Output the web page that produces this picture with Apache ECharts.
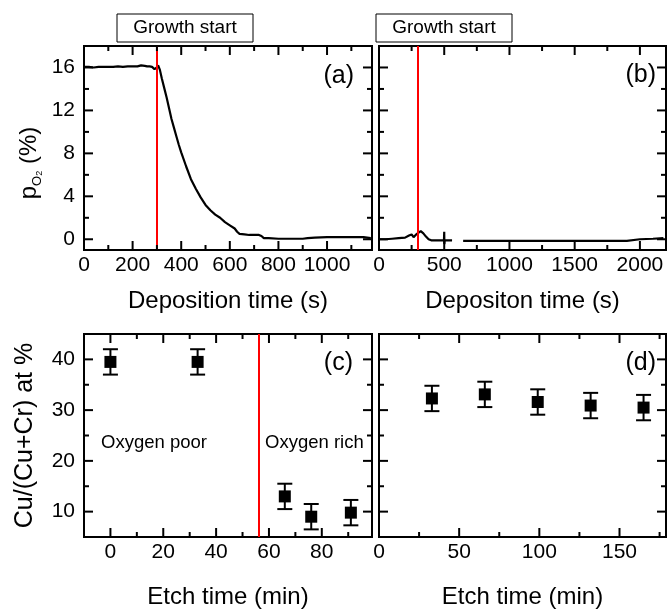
<!DOCTYPE html>
<html><head><meta charset="utf-8">
<script src="https://cdn.jsdelivr.net/npm/echarts@6/dist/echarts.min.js"></script>
<style>html,body{margin:0;padding:0;background:#fff}#c{width:671px;height:610px}</style>
</head><body><div id="c"></div>
<script>
// ---- data ----
const aTime = [0,20,40,60,80,100,120,140,160,180,200,220,235,242,250,260,270,280,290,300,305,312,320,330,340,350,360,370,380,390,400,420,440,460,480,500,520,540,560,580,600,620,630,640,660,680,700,720,730,740,760,800,850,900,920,950,1000,1050,1100,1150,1180];
const aPO2  = [16.05,16.05,16.0,16.05,16.05,16.05,16.05,16.1,16.05,16.1,16.1,16.1,16.2,16.35,16.15,16.1,16.1,16.05,15.85,16.0,16.2,15.8,15.0,14.1,13.2,12.2,11.2,10.4,9.6,8.8,8.1,6.8,5.6,4.7,3.9,3.2,2.7,2.3,2.0,1.6,1.3,1.0,0.7,0.5,0.45,0.4,0.4,0.4,0.3,0.1,0.1,0.05,0.05,0.05,0.1,0.15,0.2,0.2,0.2,0.2,0.1];
const bTime = [0,50,100,150,200,230,250,265,275,285,300,320,340,360,380,400,450,498,500,501,503,560,600,645,800,1000,1500,1900,2000,2100,2180];
const bPO2  = [0.0,0.0,0.05,0.1,0.15,0.35,0.45,0.2,0.15,0.45,0.6,0.75,0.55,0.25,0.0,-0.1,-0.1,-0.1,0.7,-0.45,-0.1,-0.1,null,-0.15,-0.15,-0.15,-0.15,-0.15,0.0,0.05,0.1];
const cEtch  = [0,33,66,76,91];
const cRatio = [39.5,39.5,13.0,9.0,9.8];
const cErr   = [2.5,2.5,2.5,2.5,2.5];
const dEtch  = [33,66,99,132,165];
const dRatio = [32.3,33.1,31.6,30.9,30.5];
const dErr   = [2.5,2.5,2.5,2.5,2.5];
const growthStartA = 300;
const growthStartB = 300;
const transitionC = 56;
// ---- ticks / tick labels ----
const aXMajor = [0,200,400,600,800,1000], aXMinor = [100,300,500,700,900,1100];
const bXMajor = [0,500,1000,1500,2000],  bXMinor = [250,750,1250,1750];
const pYMajor = [0,4,8,12,16],           pYMinor = [2,6,10,14];
const cXMajor = [0,20,40,60,80],         cXMinor = [10,30,50,70,90];
const dXMajor = [0,50,100,150],          dXMinor = [25,75,125,175];
const rYMajor = [10,20,30,40],           rYMinor = [15,25,35];

const FONT = 'Liberation Sans';
const BLK = '#000';
const TICKFS = 21, NAMEFS = 24;

const grids = [
  {left: 84, top: 46, width: 288, height: 204},
  {left: 379, top: 46, width: 287, height: 204},
  {left: 84, top: 334, width: 288, height: 204},
  {left: 379, top: 334, width: 287, height: 204}
].map(g => Object.assign(g, {show: true, borderColor: BLK, borderWidth: 2, backgroundColor: 'transparent'}));

function xAx(grid, min, max, labels, name, gap) {
  return {type: 'value', gridIndex: grid, min: min, max: max, position: 'bottom',
    splitLine: {show: false}, axisLine: {show: false, onZero: false}, axisTick: {show: false},
    axisLabel: {show: true, customValues: labels, color: BLK, fontSize: TICKFS, fontFamily: FONT, margin: 5,
      formatter: v => String(v)},
    name: name, nameLocation: 'middle', nameGap: gap,
    nameTextStyle: {color: BLK, fontSize: NAMEFS, fontFamily: FONT}};
}
function yAx(grid, min, max, labels, name, gap) {
  const o = {type: 'value', gridIndex: grid, min: min, max: max, position: 'left',
    splitLine: {show: false}, axisLine: {show: false, onZero: false}, axisTick: {show: false},
    axisLabel: labels ? {show: true, customValues: labels, color: BLK, fontSize: TICKFS, fontFamily: FONT, margin: 9,
      formatter: v => String(v)} : {show: false}};
  if (name) {
    Object.assign(o, {name: name, nameLocation: 'middle', nameGap: gap, nameRotate: 90,
      nameTextStyle: {color: BLK, fontSize: 25, fontFamily: FONT}});
  }
  return o;
}

const xAxis = [
  xAx(0, 0, 1185, aXMajor, 'Deposition time (s)', 39),
  xAx(1, 0, 2200, bXMajor, 'Depositon time (s)', 39),
  xAx(2, -10, 99, cXMajor, 'Etch time (min)', 48),
  xAx(3, 0, 179, dXMajor, 'Etch time (min)', 48)
];
const yAxis = [
  yAx(0, -1, 18, pYMajor, null),
  yAx(1, -1, 18, null, null),
  yAx(2, 5, 45, rYMajor, 'Cu/(Cu+Cr) at %', 46),
  yAx(3, 5, 45, null, null)
];

// Tick marks on all four sides, drawn through the axes' own scales
function tickData(xMaj, xMin, yMaj, yMin) {
  return [].concat(xMaj.map(v => [v, 0]), xMin.map(v => [v, 1]), yMaj.map(v => [v, 2]), yMin.map(v => [v, 3]));
}
function tickRender(params, api) {
  const v = api.value(0), k = api.value(1);
  const cs = params.coordSys;
  const st = {stroke: BLK, lineWidth: 2};
  const len = (k === 0 || k === 2) ? 9 : 5;
  if (k < 2) {
    const px = api.coord([v, 0])[0];
    const b = cs.y + cs.height, t = cs.y;
    return {type: 'group', children: [
      {type: 'line', shape: {x1: px, y1: b, x2: px, y2: b - len}, style: st},
      {type: 'line', shape: {x1: px, y1: t, x2: px, y2: t + len}, style: st}
    ]};
  }
  const py = api.coord([0, v])[1];
  const l = cs.x, r = cs.x + cs.width;
  return {type: 'group', children: [
    {type: 'line', shape: {x1: l, y1: py, x2: l + len, y2: py}, style: st},
    {type: 'line', shape: {x1: r, y1: py, x2: r - len, y2: py}, style: st}
  ]};
}
function tickSeries(i, data) {
  return {type: 'custom', xAxisIndex: i, yAxisIndex: i, renderItem: tickRender, data: data,
    silent: true, clip: false, z: 10, animation: false};
}

function redLine(v) {
  return {symbol: 'none', silent: true, label: {show: false},
    lineStyle: {color: '#ff0000', width: 2, type: 'solid'}, emphasis: {disabled: true},
    data: [{xAxis: v}]};
}

function errRender(params, api) {
  const x = api.value(0), y = api.value(1), e = api.value(2);
  const t = api.coord([x, y + e]), b = api.coord([x, y - e]);
  const cap = 7.5;
  const st = {stroke: BLK, lineWidth: 2};
  return {type: 'group', children: [
    {type: 'line', shape: {x1: t[0], y1: t[1], x2: b[0], y2: b[1]}, style: st},
    {type: 'line', shape: {x1: t[0] - cap, y1: t[1], x2: t[0] + cap, y2: t[1]}, style: st},
    {type: 'line', shape: {x1: b[0] - cap, y1: b[1], x2: b[0] + cap, y2: b[1]}, style: st}
  ]};
}

const series = [
  {type: 'line', xAxisIndex: 0, yAxisIndex: 0, showSymbol: false, symbol: 'none',
   lineStyle: {color: BLK, width: 2.2}, data: aTime.map((t, i) => [t, aPO2[i]]),
   markLine: redLine(growthStartA), z: 3},
  {type: 'line', xAxisIndex: 1, yAxisIndex: 1, showSymbol: false, symbol: 'none', connectNulls: false,
   lineStyle: {color: BLK, width: 2.2}, data: bTime.map((t, i) => [t, bPO2[i] === null ? '-' : bPO2[i]]),
   markLine: redLine(growthStartB), z: 3},
  {type: 'custom', xAxisIndex: 2, yAxisIndex: 2, renderItem: errRender,
   data: cEtch.map((x, i) => [x, cRatio[i], cErr[i]]), z: 4,
   markLine: redLine(transitionC)},
  {type: 'scatter', xAxisIndex: 2, yAxisIndex: 2, symbol: 'rect', symbolSize: 12,
   itemStyle: {color: BLK, opacity: 1}, data: cEtch.map((x, i) => [x, cRatio[i]]), z: 5},
  {type: 'custom', xAxisIndex: 3, yAxisIndex: 3, renderItem: errRender,
   data: dEtch.map((x, i) => [x, dRatio[i], dErr[i]]), z: 4},
  {type: 'scatter', xAxisIndex: 3, yAxisIndex: 3, symbol: 'rect', symbolSize: 12,
   itemStyle: {color: BLK, opacity: 1}, data: dEtch.map((x, i) => [x, dRatio[i]]), z: 5},
  tickSeries(0, tickData(aXMajor, aXMinor, pYMajor, pYMinor)),
  tickSeries(1, tickData(bXMajor, bXMinor, pYMajor, pYMinor)),
  tickSeries(2, tickData(cXMajor, cXMinor, rYMajor, rYMinor)),
  tickSeries(3, tickData(dXMajor, dXMinor, rYMajor, rYMinor))
];

function txt(x, y, s, size, align) {
  return {type: 'text', x: x, y: y, z: 50,
    style: {text: s, fill: BLK, font: size + 'px "' + FONT + '"', textAlign: align || 'center', textVerticalAlign: 'middle'}};
}
function box(x, y, w, h, s) {
  return {type: 'group', z: 50, children: [
    {type: 'rect', shape: {x: x, y: y, width: w, height: h}, style: {fill: '#fff', stroke: BLK, lineWidth: 1}},
    {type: 'text', x: x + w / 2, y: y + h / 2,
     style: {text: s, fill: BLK, font: '19px "' + FONT + '"', textAlign: 'center', textVerticalAlign: 'middle'}}
  ]};
}

const pRich = {
  a: {fontSize: 24, fontFamily: FONT, fill: BLK, lineHeight: 30, verticalAlign: 'middle'},
  b: {fontSize: 13, fontFamily: FONT, fill: BLK, lineHeight: 13, verticalAlign: 'bottom'},
  c: {fontSize: 9, fontFamily: FONT, fill: BLK, lineHeight: 9, verticalAlign: 'bottom'}
};

const graphic = [
  box(117, 14, 136, 28, 'Growth start'),
  box(376, 14, 136, 28, 'Growth start'),
  txt(354, 76, '(a)', 25, 'right'),
  txt(656, 75, '(b)', 25, 'right'),
  txt(353, 363, '(c)', 25, 'right'),
  txt(656, 363, '(d)', 25, 'right'),
  txt(101, 443, 'Oxygen poor', 18.5, 'left'),
  txt(265, 443, 'Oxygen rich', 18.5, 'left'),
  {type: 'text', x: 29, y: 163, rotation: Math.PI / 2, z: 50,
   style: {text: '{a|p}{b|O}{c|2}{a| (%)}', rich: pRich, fill: BLK, font: '24px "' + FONT + '"',
     textAlign: 'center', textVerticalAlign: 'middle'}}
];

const chart = echarts.init(document.getElementById('c'), null, {renderer: 'canvas'});
chart.setOption({
  animation: false,
  backgroundColor: '#fff',
  grid: grids,
  xAxis: xAxis,
  yAxis: yAxis,
  series: series,
  graphic: graphic
});
</script>
</body></html>
